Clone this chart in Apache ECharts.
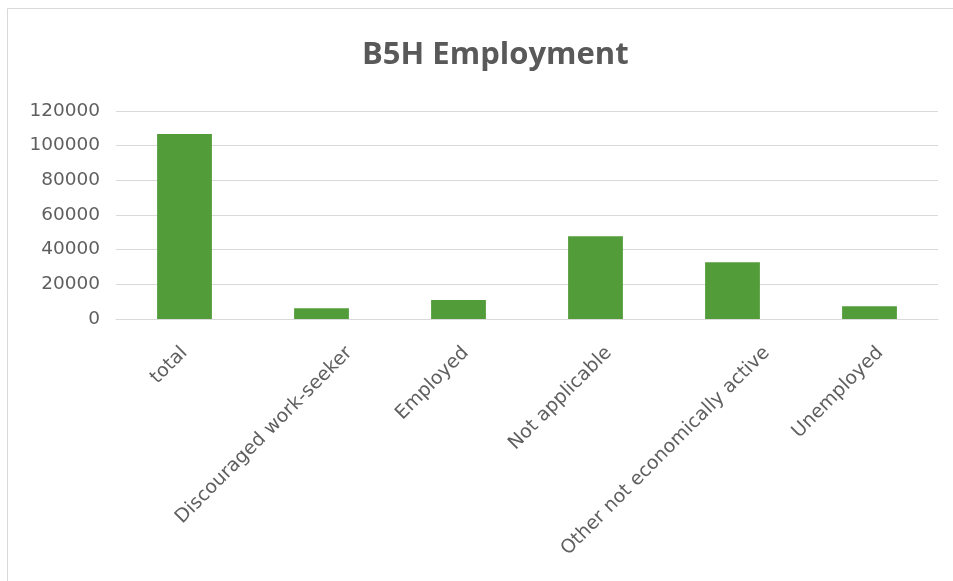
<!DOCTYPE html>
<html>
<head>
<meta charset="utf-8">
<script src="https://cdn.jsdelivr.net/npm/echarts@6/dist/echarts.min.js"></script>
<style>html,body{margin:0;padding:0;background:#fff;}#c{width:953px;height:581px;}</style>
</head>
<body>
<div id="c"></div>
<script>
const categories = ["total", "Discouraged work-seeker", "Employed", "Not applicable", "Other not economically active", "Unemployed"];
const values = [106800, 6200, 11000, 47800, 32700, 7300];
const yTicks = [0, 20000, 40000, 60000, 80000, 100000, 120000];

const LABEL_FONT = 'DejaVu Sans';
const LABEL_SIZE = 19;
// measure each label so the rotated text can be nudged sideways like Excel's
const ctx = document.createElement('canvas').getContext('2d');
ctx.font = LABEL_SIZE + 'px "' + LABEL_FONT + '"';
const xData = categories.map(function (c) {
  const w = ctx.measureText(c).width;
  const S = 0.141 * w - 6.1;       // horizontal shift of the rotated label
  const s = S / Math.SQRT2;
  return { value: c, textStyle: { verticalAlign: 'top', padding: [s - LABEL_SIZE / 2, -s, 0, 0] } };
});

const chart = echarts.init(document.getElementById('c'));
chart.setOption({
  animation: false,
  backgroundColor: '#fff',
  graphic: [{
    type: 'rect', shape: { x: 7.5, y: 8.5, width: 1000, height: 700 },
    style: { fill: 'none', stroke: '#d9d9d9', lineWidth: 1 }, silent: true
  }],
  title: {
    text: 'B5H Employment', left: 357, top: 35,
    textStyle: { fontFamily: 'Open Sans', fontSize: 31, fontWeight: 'bold', color: '#595959' }
  },
  grid: { left: 116, right: 15, top: 111, bottom: 262, containLabel: false },
  xAxis: {
    type: 'category', data: xData,
    axisLine: { lineStyle: { color: '#d9d9d9' } },
    axisTick: { show: false },
    axisLabel: { rotate: 45, interval: 0, color: '#5f5f5f', fontFamily: LABEL_FONT, fontSize: LABEL_SIZE, margin: 31 }
  },
  yAxis: {
    type: 'value', min: yTicks[0], max: yTicks[yTicks.length - 1], interval: 20000,
    axisLine: { show: false }, axisTick: { show: false },
    splitLine: { lineStyle: { color: '#d9d9d9' } },
    axisLabel: { color: '#5f5f5f', fontFamily: 'DejaVu Sans', fontSize: 18.5, margin: 16,
      formatter: function (v) { return String(v); } }
  },
  series: [{
    type: 'bar', data: values, barWidth: '40%',
    itemStyle: { color: '#539c3a' }
  }]
});
</script>
</body>
</html>
